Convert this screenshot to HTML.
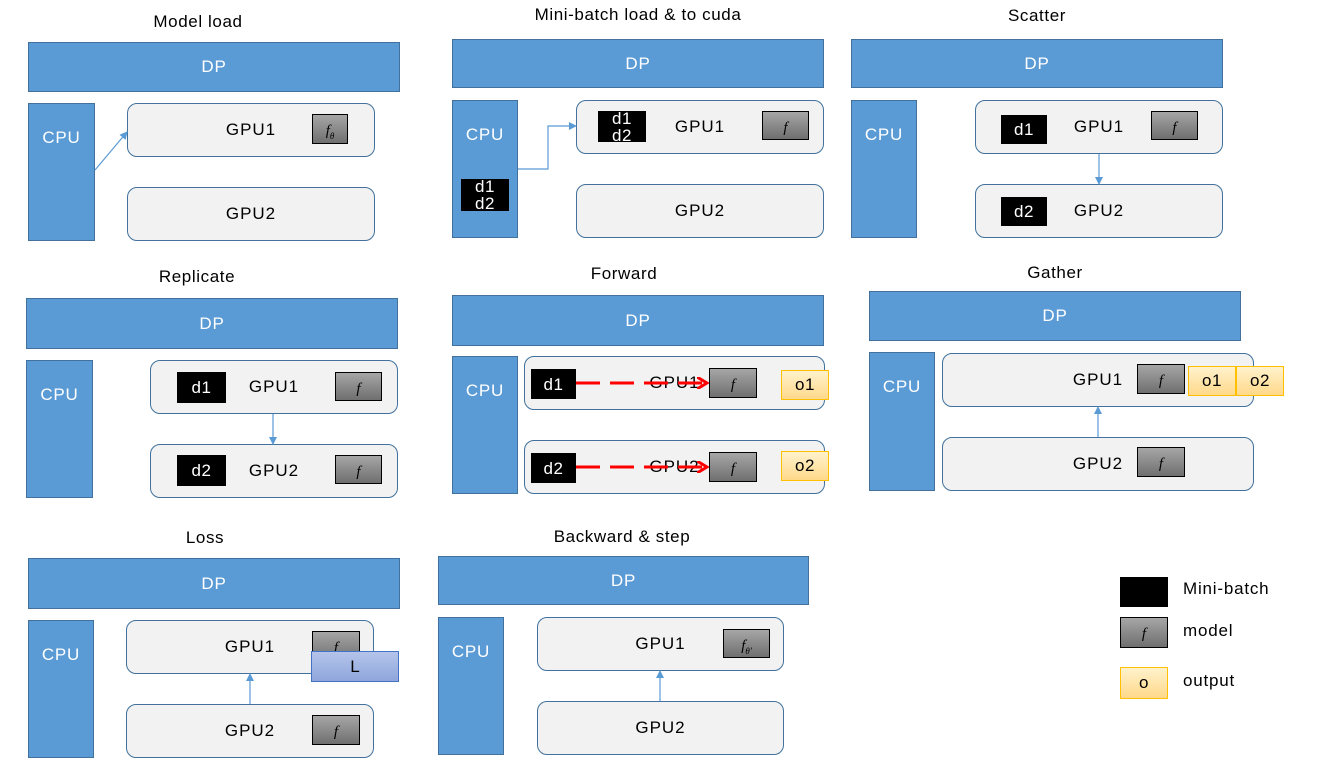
<!DOCTYPE html>
<html><head><meta charset="utf-8"><style>
body{margin:0;width:1323px;height:760px;background:#fff;position:relative;overflow:hidden;font-family:"Liberation Sans",sans-serif;}
div{position:absolute;box-sizing:border-box;}
.t{font-size:17px;color:#000;text-align:center;width:300px;letter-spacing:0.6px;}
.dp,.cpu{background:#5b9bd5;border:1px solid #41719c;color:#fff;font-size:17px;letter-spacing:0.8px;}
.dp{display:flex;align-items:center;justify-content:center;}
.cpu{text-align:center;padding-top:24px;}
.gpu{background:#f2f2f2;border:1px solid #41719c;border-radius:10px;font-size:17px;display:flex;align-items:center;justify-content:center;letter-spacing:1px;}
.f{background:linear-gradient(#a6a6a6,#6f6f6f);border:1px solid #000;font-family:"Liberation Serif",serif;font-style:italic;font-size:15px;text-align:center;padding-top:8px;}
.d{background:#000;color:#fff;font-size:17px;display:flex;align-items:center;justify-content:center;line-height:17px;text-align:center;letter-spacing:0.6px;}
.o{background:linear-gradient(#fff2cc,#ffd98a);border:1px solid #ffc000;font-size:17px;display:flex;align-items:center;justify-content:center;letter-spacing:0.6px;}
.L{background:linear-gradient(#b4c4ea,#8fa6dc);border:1px solid #4472c4;font-size:17px;display:flex;align-items:center;justify-content:center;}
.lg{font-size:17px;letter-spacing:0.8px;}
svg{position:absolute;left:0;top:0;}
</style></head><body>
<div class="t" style="left:48px;top:12px">Model load</div>
<div class="dp" style="left:28px;top:42px;width:372px;height:50px">DP</div>
<div class="cpu" style="left:28px;top:103px;width:67px;height:138px">CPU</div>
<div class="gpu" style="left:127px;top:103px;width:248px;height:54px">GPU1</div>
<div class="gpu" style="left:127px;top:187px;width:248px;height:54px">GPU2</div>
<div class="f" style="left:312px;top:114px;width:36px;height:30px">f<sub style="font-size:9px">θ</sub></div>
<div class="t" style="left:488px;top:5px">Mini-batch load &amp; to cuda</div>
<div class="dp" style="left:452px;top:39px;width:372px;height:49px">DP</div>
<div class="cpu" style="left:452px;top:100px;width:66px;height:138px">CPU</div>
<div class="gpu" style="left:576px;top:100px;width:248px;height:54px">GPU1</div>
<div class="gpu" style="left:576px;top:184px;width:248px;height:54px">GPU2</div>
<div class="d" style="left:598px;top:111px;width:48px;height:31px">d1<br>d2</div>
<div class="d" style="left:461px;top:179px;width:48px;height:32px">d1<br>d2</div>
<div class="f" style="left:762px;top:111px;width:47px;height:29px">f</div>
<div class="t" style="left:887px;top:6px">Scatter</div>
<div class="dp" style="left:851px;top:39px;width:372px;height:49px">DP</div>
<div class="cpu" style="left:851px;top:100px;width:66px;height:138px">CPU</div>
<div class="gpu" style="left:975px;top:100px;width:248px;height:54px">GPU1</div>
<div class="gpu" style="left:975px;top:184px;width:248px;height:54px">GPU2</div>
<div class="d" style="left:1001px;top:115px;width:46px;height:29px">d1</div>
<div class="d" style="left:1001px;top:197px;width:46px;height:29px">d2</div>
<div class="f" style="left:1151px;top:111px;width:47px;height:29px">f</div>
<div class="t" style="left:47px;top:267px">Replicate</div>
<div class="dp" style="left:26px;top:298px;width:372px;height:51px">DP</div>
<div class="cpu" style="left:26px;top:360px;width:67px;height:138px">CPU</div>
<div class="gpu" style="left:150px;top:360px;width:248px;height:54px">GPU1</div>
<div class="gpu" style="left:150px;top:444px;width:248px;height:54px">GPU2</div>
<div class="d" style="left:177px;top:372px;width:49px;height:31px">d1</div>
<div class="d" style="left:177px;top:455px;width:49px;height:31px">d2</div>
<div class="f" style="left:335px;top:372px;width:47px;height:29px">f</div>
<div class="f" style="left:335px;top:455px;width:47px;height:29px">f</div>
<div class="t" style="left:474px;top:264px">Forward</div>
<div class="dp" style="left:452px;top:295px;width:372px;height:51px">DP</div>
<div class="cpu" style="left:452px;top:356px;width:66px;height:138px">CPU</div>
<div class="gpu" style="left:524px;top:356px;width:301px;height:54px">GPU1</div>
<div class="gpu" style="left:524px;top:440px;width:301px;height:54px">GPU2</div>
<div class="d" style="left:531px;top:369px;width:45px;height:30px">d1</div>
<div class="d" style="left:531px;top:453px;width:45px;height:30px">d2</div>
<div class="f" style="left:709px;top:368px;width:48px;height:30px">f</div>
<div class="f" style="left:709px;top:452px;width:48px;height:30px">f</div>
<div class="o" style="left:781px;top:370px;width:48px;height:30px">o1</div>
<div class="o" style="left:781px;top:451px;width:48px;height:30px">o2</div>
<div class="t" style="left:905px;top:263px">Gather</div>
<div class="dp" style="left:869px;top:291px;width:372px;height:50px">DP</div>
<div class="cpu" style="left:869px;top:352px;width:66px;height:139px">CPU</div>
<div class="gpu" style="left:942px;top:353px;width:312px;height:54px">GPU1</div>
<div class="gpu" style="left:942px;top:437px;width:312px;height:54px">GPU2</div>
<div class="f" style="left:1137px;top:364px;width:48px;height:30px">f</div>
<div class="f" style="left:1137px;top:447px;width:48px;height:30px">f</div>
<div class="o" style="left:1188px;top:366px;width:48px;height:30px">o1</div>
<div class="o" style="left:1236px;top:366px;width:48px;height:30px">o2</div>
<div class="t" style="left:55px;top:528px">Loss</div>
<div class="dp" style="left:28px;top:558px;width:372px;height:51px">DP</div>
<div class="cpu" style="left:28px;top:620px;width:66px;height:138px">CPU</div>
<div class="gpu" style="left:126px;top:620px;width:248px;height:54px">GPU1</div>
<div class="gpu" style="left:126px;top:704px;width:248px;height:54px">GPU2</div>
<div class="f" style="left:312px;top:631px;width:48px;height:30px">f</div>
<div class="f" style="left:312px;top:715px;width:48px;height:30px">f</div>
<div class="L" style="left:311px;top:651px;width:88px;height:31px">L</div>
<div class="t" style="left:472px;top:527px">Backward &amp; step</div>
<div class="dp" style="left:438px;top:556px;width:371px;height:49px">DP</div>
<div class="cpu" style="left:438px;top:617px;width:66px;height:138px">CPU</div>
<div class="gpu" style="left:537px;top:617px;width:247px;height:54px">GPU1</div>
<div class="gpu" style="left:537px;top:701px;width:247px;height:54px">GPU2</div>
<div class="f" style="left:723px;top:629px;width:47px;height:29px">f<sub style="font-size:9px">θ'</sub></div>
<div class="d" style="left:1120px;top:577px;width:48px;height:30px"></div>
<div class="lg" style="left:1183px;top:579px">Mini-batch</div>
<div class="f" style="left:1120px;top:617px;width:48px;height:31px">f</div>
<div class="lg" style="left:1183px;top:621px">model</div>
<div class="o" style="left:1120px;top:667px;width:48px;height:32px">o</div>
<div class="lg" style="left:1183px;top:671px">output</div>
<svg width="1323" height="760">
<defs><marker id="a" markerWidth="8" markerHeight="8" refX="7" refY="4" orient="auto" markerUnits="userSpaceOnUse"><path d="M0,0 L8,4 L0,8 z" fill="#5b9bd5"/></marker>
<marker id="r" markerWidth="12" markerHeight="12" refX="10" refY="6" orient="auto" markerUnits="userSpaceOnUse"><path d="M0,0 L10,6 L0,12" fill="none" stroke="#f00" stroke-width="3"/></marker></defs>
<g stroke="#5b9bd5" stroke-width="1.2" fill="none">
<line x1="95" y1="170" x2="127" y2="132" marker-end="url(#a)"/>
<polyline points="518,169 548,169 548,126 576,126" marker-end="url(#a)"/>
<line x1="1099" y1="154" x2="1099" y2="184" marker-end="url(#a)"/>
<line x1="273" y1="414" x2="273" y2="444" marker-end="url(#a)"/>
<line x1="1098" y1="437" x2="1098" y2="407" marker-end="url(#a)"/>
<line x1="250" y1="704" x2="250" y2="674" marker-end="url(#a)"/>
<line x1="660" y1="701" x2="660" y2="671" marker-end="url(#a)"/>
</g>
<g stroke="#f00" stroke-width="3" fill="none" stroke-dasharray="24,10">
<line x1="576" y1="383" x2="707" y2="383" marker-end="url(#r)"/>
<line x1="576" y1="467" x2="707" y2="467" marker-end="url(#r)"/>
</g>
</svg>
</body></html>
